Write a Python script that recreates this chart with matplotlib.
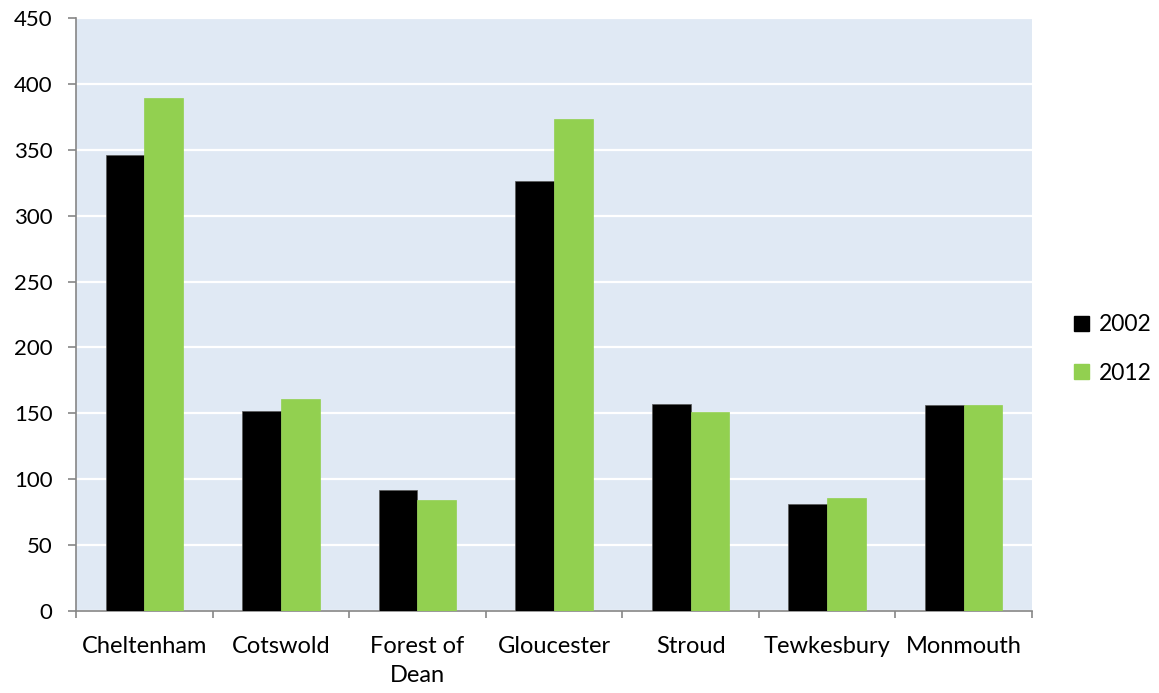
import matplotlib
matplotlib.use("Agg")
import matplotlib.pyplot as plt
import numpy as np
from matplotlib.patches import Patch

categories = ["Cheltenham", "Cotswold", "Forest of\nDean", "Gloucester",
              "Stroud", "Tewkesbury", "Monmouth"]
values_2002 = [346, 152, 92, 326, 157, 81, 156]
values_2012 = [389, 161, 84, 373, 151, 86, 156]
series_labels = ["2002", "2012"]
y_ticks = [0, 50, 100, 150, 200, 250, 300, 350, 400, 450]

plt.rcParams['font.family'] = ['Lato', 'DejaVu Sans']

fig = plt.figure(figsize=(11.59, 6.93), dpi=100)
ax = fig.add_axes([76 / 1159, 82 / 693, 956 / 1159, 593 / 693])

bg = "#E0E9F4"
axis_col = "#868686"
ax.set_facecolor(bg)

x = np.arange(len(categories))
w = 0.283
ax.bar(x - w / 2, values_2002, w, color="black", edgecolor="#595959",
       linewidth=0.5, zorder=3, label=series_labels[0])
ax.bar(x + w / 2, values_2012, w, color="#92D050", edgecolor="#92D050",
       linewidth=0.5, zorder=3, label=series_labels[1])

ax.set_xlim(-0.5, len(categories) - 0.5)
ax.set_ylim(0, 450)
ax.set_yticks(y_ticks)
ax.yaxis.grid(True, color="white", linewidth=1.6, zorder=1)
ax.set_axisbelow(True)

for s in ["top", "right"]:
    ax.spines[s].set_visible(False)
for s in ["left", "bottom"]:
    ax.spines[s].set_color(axis_col)
    ax.spines[s].set_linewidth(1.2)

ax.tick_params(axis="y", direction="out", length=5.8, width=1.2, color=axis_col,
               labelsize=16, pad=11, labelcolor="black")
ax.set_xticks(x)
ax.set_xticklabels(categories, fontsize=17, va="top", linespacing=1.5)
ax.set_xticks(np.arange(len(categories) + 1) - 0.5, minor=True)
ax.tick_params(axis="x", which="major", length=0, pad=18)
ax.tick_params(axis="x", which="minor", direction="out", length=5.2, width=1.2,
               color=axis_col)

handles = [Patch(facecolor="black", edgecolor="black"),
           Patch(facecolor="#92D050", edgecolor="#92D050")]
fig.legend(handles, series_labels, loc="center left",
           bbox_to_anchor=(1053 / 1159, 1 - 349 / 693), frameon=False,
           fontsize=16.5, handlelength=0.65, handleheight=0.65,
           handletextpad=0.45, labelspacing=1.2)

fig.savefig("out.png", dpi=100, facecolor="white")
